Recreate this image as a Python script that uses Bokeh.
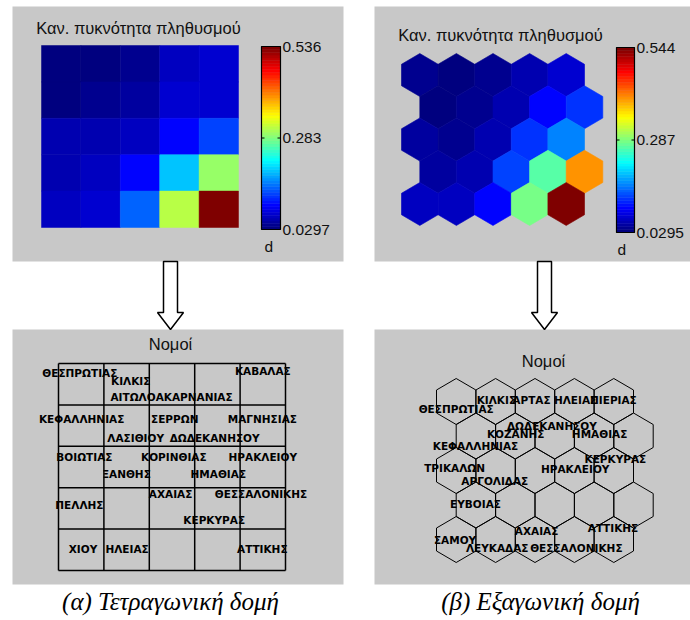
import numpy as np
from bokeh.plotting import figure
from bokeh.models import Range1d
from bokeh.core.properties import value
from bokeh.embed import file_html
from bokeh.resources import INLINE

# ---------------- data ----------------
density_title = "Καν. πυκνότητα πληθυσμού"
labels_title = "Νομοί"
captions = ["(α) Τετραγωνική δομή", "(β) Εξαγωνική δομή"]
unit_label = "d"

# rectangular SOM, rows top->bottom, cols left->right
rect_density = [
    [0.035, 0.034, 0.040, 0.066, 0.072],
    [0.033, 0.043, 0.049, 0.073, 0.077],
    [0.055, 0.061, 0.065, 0.093, 0.125],
    [0.061, 0.068, 0.099, 0.188, 0.295],
    [0.068, 0.073, 0.143, 0.314, 0.536],
]
rect_low, rect_high = 0.0297, 0.536
rect_tick_labels = ["0.0297", "0.283", "0.536"]

# hexagonal SOM, rows top->bottom (odd rows shifted right)
hex_density = [
    [0.042, 0.036, 0.042, 0.055, 0.075],
    [0.036, 0.042, 0.055, 0.094, 0.120],
    [0.049, 0.042, 0.055, 0.120, 0.165],
    [0.049, 0.055, 0.132, 0.267, 0.403],
    [0.068, 0.068, 0.096, 0.280, 0.544],
]
hex_low, hex_high = 0.0295, 0.544
hex_tick_labels = ["0.0295", "0.287", "0.544"]

# labels on the rectangular map (grid units: col, row)
rect_names = ["ΘΕΣΠΡΩΤΙΑΣ", "ΚΙΛΚΙΣ", "ΑΙΤΩΛΟΑΚΑΡΝΑΝΙΑΣ", "ΚΑΒΑΛΑΣ",
              "ΚΕΦΑΛΛΗΝΙΑΣ", "ΣΕΡΡΩΝ", "ΜΑΓΝΗΣΙΑΣ", "ΛΑΣΙΘΙΟΥ", "ΔΩΔΕΚΑΝΗΣΟΥ",
              "ΒΟΙΩΤΙΑΣ", "ΚΟΡΙΝΘΙΑΣ", "ΗΡΑΚΛΕΙΟΥ", "ΞΑΝΘΗΣ", "ΗΜΑΘΙΑΣ",
              "ΑΧΑΙΑΣ", "ΘΕΣΣΑΛΟΝΙΚΗΣ", "ΠΕΛΛΗΣ", "ΚΕΡΚΥΡΑΣ",
              "ΧΙΟΥ", "ΗΛΕΙΑΣ", "ΑΤΤΙΚΗΣ"]
rect_name_col = [0.47, 1.59, 2.49, 4.50, 0.51, 2.56, 4.49, 1.70, 3.44,
                 0.57, 2.54, 4.50, 1.50, 3.52, 2.47, 4.46, 0.46, 3.43,
                 0.54, 1.51, 4.49]
rect_name_row = [0.22, 0.43, 0.82, 0.19, 1.33, 1.33, 1.33, 1.79, 1.79,
                 2.25, 2.25, 2.25, 2.68, 2.66, 3.16, 3.16, 3.41, 3.79,
                 4.49, 4.49, 4.49]

# labels on the hexagonal map (hex units: col, row)
hex_names = ["ΘΕΣΠΡΩΤΙΑΣ", "ΚΙΛΚΙΣ", "ΑΡΤΑΣ", "ΗΛΕΙΑΣ", "ΠΙΕΡΙΑΣ",
             "ΔΩΔΕΚΑΝΗΣΟΥ", "ΚΟΖΑΝΗΣ", "ΗΜΑΘΙΑΣ", "ΚΕΦΑΛΛΗΝΙΑΣ", "ΚΕΡΚΥΡΑΣ",
             "ΤΡΙΚΑΛΩΝ", "ΗΡΑΚΛΕΙΟΥ", "ΑΡΓΟΛΙΔΑΣ", "ΕΥΒΟΙΑΣ", "ΑΧΑΙΑΣ",
             "ΑΤΤΙΚΗΣ", "ΣΑΜΟΥ", "ΛΕΥΚΑΔΑΣ", "ΘΕΣΣΑΛΟΝΙΚΗΣ"]
hex_name_col = [0.00, 1.02, 1.91, 3.03, 3.99, 2.43, 1.51, 3.64, 0.49, 4.04,
                -0.04, 3.02, 0.98, 0.49, 2.04, 3.98, -0.03, 1.04, 3.05]
hex_name_row = [0.21, -0.05, -0.05, -0.05, -0.05, 0.70, 0.93, 0.93, 1.28, 1.68,
                1.94, 1.97, 2.29, 2.96, 3.74, 3.68, 4.00, 4.26, 4.26]


# ---------------- helpers ----------------
def jet(t):
    t = float(np.clip(t, 0, 1))
    t = min(int(t * 64), 63) / 63.0  # 64-colour jet like MATLAB
    r = np.clip(1.5 - abs(4 * t - 3), 0, 1)
    g = np.clip(1.5 - abs(4 * t - 2), 0, 1)
    b = np.clip(1.5 - abs(4 * t - 1), 0, 1)
    return "#%02x%02x%02x" % (int(r * 255), int(g * 255), int(b * 255))


def hex_verts(cx, cy, w, h):
    xs = [cx, cx + w / 2, cx + w / 2, cx, cx - w / 2, cx - w / 2]
    ys = [cy - h / 2, cy - h / 4, cy + h / 4, cy + h / 2, cy + h / 4, cy - h / 4]
    return xs, ys


GREY = "#c8c8c8"
SANS = value("Liberation Sans")
LABF = value("DejaVu Sans")

p = figure(width=690, height=620, x_range=Range1d(0, 690), y_range=Range1d(620, 0),
           output_backend="svg", toolbar_location=None, min_border=0)
p.axis.visible = False
p.grid.visible = False
p.outline_line_color = None
p.min_border_left = p.min_border_right = p.min_border_top = p.min_border_bottom = 0

# panel backgrounds
p.quad(left=[12, 374, 12, 374], right=[343, 690, 343, 690],
       top=[6, 6, 329, 329], bottom=[261, 261, 584, 584],
       fill_color=GREY, line_color=None)

# ---------- (a) top: rectangular density map ----------
rx0, rx1, ry0, ry1 = 41, 238, 45, 227
nr, nc = len(rect_density), len(rect_density[0])
cw, ch = (rx1 - rx0) / nc, (ry1 - ry0) / nr
L, R, T, B, C = [], [], [], [], []
for i, row in enumerate(rect_density):
    for j, v in enumerate(row):
        L.append(rx0 + j * cw); R.append(rx0 + (j + 1) * cw)
        T.append(ry0 + i * ch); B.append(ry0 + (i + 1) * ch)
        C.append(jet((v - rect_low) / (rect_high - rect_low)))
p.quad(left=L, right=R, top=T, bottom=B, fill_color=C, line_color=C, line_width=0.5)


def colorbar(x0, x1, y0, y1, low, high, tick_labels, lx):
    n = 64
    edges = np.linspace(y1, y0, n + 1)
    cols = [jet((k + 0.5) / n) for k in range(n)]
    p.quad(left=x0, right=x1, bottom=edges[:-1], top=edges[1:], fill_color=cols, line_color=cols,
           line_width=0.5)
    p.quad(left=[x0], right=[x1], top=[y0], bottom=[y1], fill_color=None, line_color="black",
           line_width=1.2)
    vals = [low, (low + high) / 2, high]
    ys = [y1 - (v - low) / (high - low) * (y1 - y0) for v in vals]
    p.segment(x0=[x0, x1 - 3], x1=[x0 + 3, x1], y0=[ys[1]] * 2, y1=[ys[1]] * 2,
              line_color="black", line_width=1)
    p.text(x=[lx] * 3, y=ys, text=tick_labels, text_font=SANS, text_font_size="15.5px",
           text_align="left", text_baseline="middle", text_color="#111111")


colorbar(261, 280, 46, 229, rect_low, rect_high, rect_tick_labels, 282)
p.text(x=[264], y=[246], text=[unit_label], text_font=SANS, text_font_size="15.5px",
       text_align="left", text_baseline="middle", text_color="#111111")
p.text(x=[138], y=[27], text=[density_title], text_font=SANS, text_font_size="16.5px",
       text_align="center", text_baseline="middle", text_color="#111111")

# ---------- (b) top: hexagonal density map ----------
hx0, hy0, hw, hh = 401, 53, 36.6, 43.0
XS, YS, HC = [], [], []
for i, row in enumerate(hex_density):
    for j, v in enumerate(row):
        cx = hx0 + hw / 2 + j * hw + (i % 2) * hw / 2
        cy = hy0 + hh / 2 + i * 0.75 * hh
        xs, ys = hex_verts(cx, cy, hw, hh)
        XS.append(xs); YS.append(ys)
        HC.append(jet((v - hex_low) / (hex_high - hex_low)))
p.patches(xs=XS, ys=YS, fill_color=HC, line_color=HC, line_width=0.6)

colorbar(616, 634, 47, 232, hex_low, hex_high, hex_tick_labels, 636)
p.text(x=[617], y=[249], text=[unit_label], text_font=SANS, text_font_size="15.5px",
       text_align="left", text_baseline="middle", text_color="#111111")
p.text(x=[500], y=[34], text=[density_title], text_font=SANS, text_font_size="16.5px",
       text_align="center", text_baseline="middle", text_color="#111111")

# ---------- arrows ----------
for ax in (170, 544):
    p.patch(x=[ax - 7, ax + 7, ax + 7, ax + 13, ax, ax - 13, ax - 7],
            y=[261, 261, 312, 312, 329, 312, 312],
            fill_color="white", line_color="black", line_width=1.5)

# ---------- (a) bottom: rectangular label grid ----------
gx0, gx1, gy0, gy1 = 58, 285, 363, 570
gcw, gch = (gx1 - gx0) / 5, (gy1 - gy0) / 5
vx = [gx0 + k * gcw for k in range(6)]
hy = [gy0 + k * gch for k in range(6)]
p.segment(x0=vx, x1=vx, y0=[gy0] * 6, y1=[gy1] * 6, line_color="black", line_width=1.5)
p.segment(x0=[gx0] * 6, x1=[gx1] * 6, y0=hy, y1=hy, line_color="black", line_width=1.5)
p.text(x=[gx0 + c * gcw for c in rect_name_col], y=[gy0 + r * gch for r in rect_name_row],
       text=rect_names, text_font=LABF, text_font_size="10.5px", text_font_style="bold",
       text_align="center", text_baseline="middle", text_color="black")
p.text(x=[170], y=[343], text=[labels_title], text_font=SANS, text_font_size="16.5px",
       text_align="center", text_baseline="middle", text_color="#111111")

# ---------- (b) bottom: hexagonal label grid ----------
bx0, by0, bw, bh = 436, 378, 39.4, 46.0
XS, YS = [], []
for i in range(5):
    for j in range(5):
        cx = bx0 + bw / 2 + j * bw + (i % 2) * bw / 2
        cy = by0 + bh / 2 + i * 0.75 * bh
        xs, ys = hex_verts(cx, cy, bw, bh)
        XS.append(xs); YS.append(ys)
p.patches(xs=XS, ys=YS, fill_color=None, line_color="black", line_width=1)
p.text(x=[bx0 + bw / 2 + c * bw for c in hex_name_col],
       y=[by0 + bh / 2 + r * 0.75 * bh for r in hex_name_row],
       text=hex_names, text_font=LABF, text_font_size="10.5px", text_font_style="bold",
       text_align="center", text_baseline="middle", text_color="black")
p.text(x=[543], y=[360], text=[labels_title], text_font=SANS, text_font_size="16.5px",
       text_align="center", text_baseline="middle", text_color="#111111")

# ---------- captions ----------
p.text(x=[170, 540], y=[601, 601], text=captions, text_font=value("Liberation Serif"),
       text_font_size="25px", text_font_style="italic", text_align="center",
       text_baseline="middle", text_color="black")

open("out.html", "w").write(file_html(p, INLINE))
